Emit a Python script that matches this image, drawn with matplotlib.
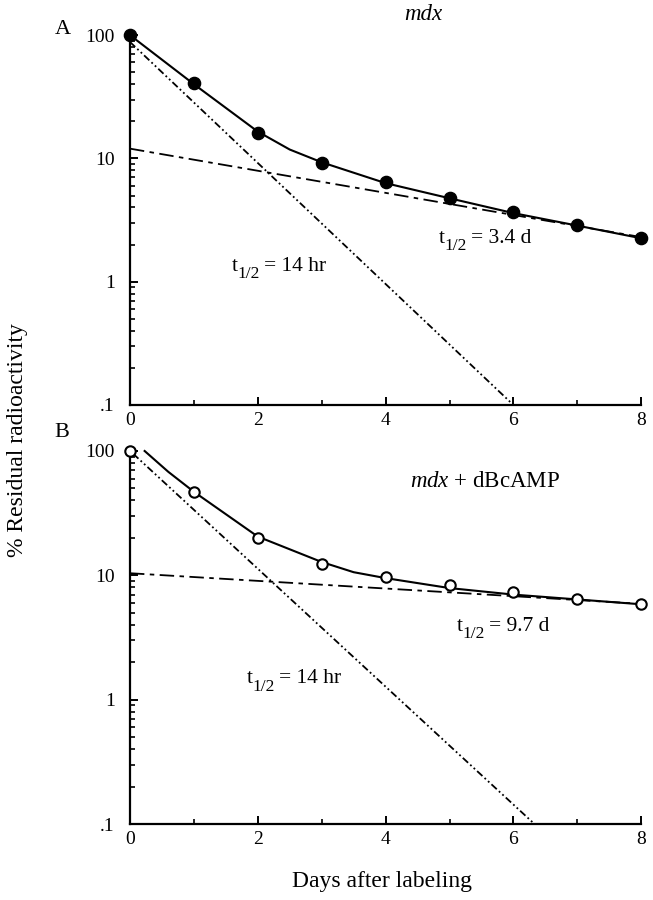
import numpy as np
import matplotlib
matplotlib.use("Agg")
import matplotlib.pyplot as plt
from matplotlib.ticker import FixedLocator, LogLocator, NullFormatter

plt.rcParams['font.family'] = ['Liberation Serif', 'DejaVu Serif']
plt.rcParams['mathtext.fontset'] = 'custom'
plt.rcParams['mathtext.rm'] = 'Liberation Serif'
plt.rcParams['mathtext.it'] = 'Liberation Serif:italic'

# panel A (mdx) - measured points
days = [0, 1, 2, 3, 4, 5, 6, 7, 8]
mdx_pts = [100, 41, 16.2, 9.1, 6.4, 4.8, 3.65, 2.88, 2.26]
# solid fitted curve
mdx_fit_x = [0, 1, 2, 2.5, 3, 4, 5, 6, 7, 8]
mdx_fit_y = [100, 40, 16.5, 11.8, 9.3, 6.3, 4.75, 3.6, 2.85, 2.25]
# component lines (endpoints)
mdx_fast_x = [0, 6]
mdx_fast_y = [88, 0.1]
mdx_slow_x = [0, 8]
mdx_slow_y = [12, 2.3]

# panel B (mdx + dBcAMP)
dbc_pts = [100, 47, 20, 12.3, 9.7, 8.3, 7.3, 6.4, 5.85]
dbc_fit_x = [0.23, 0.6, 1, 2, 3, 3.5, 4, 5, 6, 7, 8]
dbc_fit_y = [100, 68, 47, 20.5, 12.8, 10.6, 9.5, 7.9, 7.0, 6.4, 5.85]
dbc_fast_x = [0.05, 6.33]
dbc_fast_y = [95, 0.1]
dbc_slow_x = [0, 8]
dbc_slow_y = [10.4, 5.9]

# half-life labels: (x, baseline y, text after subscript)
mdx_labels = [(1.59, 1.23, '= 14 hr'), (4.84, 2.07, '= 3.4 d')]
dbc_labels = [(1.83, 1.35, '= 14 hr'), (5.11, 3.6, '= 9.7 d')]

fig = plt.figure(figsize=(6.53, 9.0), dpi=100)
axA = fig.add_axes([0.199, 0.55, 0.783, 0.411])
axB = fig.add_axes([0.199, 0.0844, 0.783, 0.4145])

fast_dash = [4, 1.6, 1, 1.6, 1, 1.6]
slow_dash = [8, 3, 2.5, 3]


def style(ax):
    ax.set_yscale('log')
    ax.set_xlim(0, 8)
    ax.set_ylim(0.1, 100)
    for s in ['top', 'right']:
        ax.spines[s].set_visible(False)
    for s in ['left', 'bottom']:
        ax.spines[s].set_linewidth(1.6)
    ax.xaxis.set_major_locator(FixedLocator([0, 2, 4, 6, 8]))
    ax.xaxis.set_minor_locator(FixedLocator([1, 3, 5, 7]))
    ax.yaxis.set_major_locator(FixedLocator([0.1, 1, 10, 100]))
    ax.yaxis.set_minor_locator(LogLocator(base=10, subs=np.arange(2, 10)))
    ax.yaxis.set_minor_formatter(NullFormatter())
    ax.set_yticklabels(['.1', '1', '10', '100'])
    ax.set_xticklabels(['0', '2', '4', '6', '8'])
    ax.tick_params(which='major', direction='in', length=6, width=1.4, labelsize=14)
    ax.tick_params(which='minor', direction='in', length=3.5, width=1.2)
    ax.tick_params(axis='y', which='major', pad=11)
    ax.tick_params(axis='x', which='major', pad=5)


def half_life(ax, x, y, rest, fs=15.5):
    # "t" + big lowered "1/2" + rest, like the original typesetting
    t = ax.text(x, y, 't', fontsize=fs, va='baseline')
    sub = ax.annotate('1/2', xy=(1, 0), xycoords=t, xytext=(-0.3, -4.5),
                      textcoords='offset points', fontsize=12.5, va='bottom')
    ax.annotate(rest, xy=(1, 0), xycoords=(sub, t), xytext=(3, 0),
                textcoords='offset points', fontsize=fs, va='bottom')


for ax in (axA, axB):
    style(ax)

axA.plot(mdx_fit_x, mdx_fit_y, color='black', lw=1.5, clip_on=False)
axA.plot(mdx_fast_x, mdx_fast_y, color='black', lw=1.3, dashes=fast_dash)
axA.plot(mdx_slow_x, mdx_slow_y, color='black', lw=1.3, dashes=slow_dash)
axA.plot(days, mdx_pts, 'o', color='black', ms=8.8, clip_on=False, zorder=5)

axB.plot(dbc_fit_x, dbc_fit_y, color='black', lw=1.5, clip_on=False)
axB.plot(dbc_fast_x, dbc_fast_y, color='black', lw=1.3, dashes=fast_dash)
axB.plot(dbc_slow_x, dbc_slow_y, color='black', lw=1.3, dashes=slow_dash)
axB.plot(days, dbc_pts, 'o', mfc='white', mec='black', mew=1.5, ms=7.5,
         clip_on=False, zorder=5)

for x, y, rest in mdx_labels:
    half_life(axA, x, y, rest)
for x, y, rest in dbc_labels:
    half_life(axB, x, y, rest)

fig.text(423 / 653, 1 - 15 / 900, 'mdx', style='italic', fontsize=16.5,
         ha='center', va='center')
fig.text(485 / 653, 1 - 481 / 900, r'$\mathit{mdx}$ + dBcAMP', fontsize=16.5,
         ha='center', va='center')
fig.text(63 / 653, 1 - 30 / 900, 'A', fontsize=16, ha='center', va='center')
fig.text(62 / 653, 1 - 433 / 900, 'B', fontsize=16, ha='center', va='center')
fig.text(18 / 653, 1 - 440 / 900, '% Residual radioactivity', fontsize=17,
         rotation=90, ha='center', va='center')
fig.text(382 / 653, 1 - 882 / 900, 'Days after labeling', fontsize=17,
         ha='center', va='center')

fig.savefig('out.png', dpi=100)
